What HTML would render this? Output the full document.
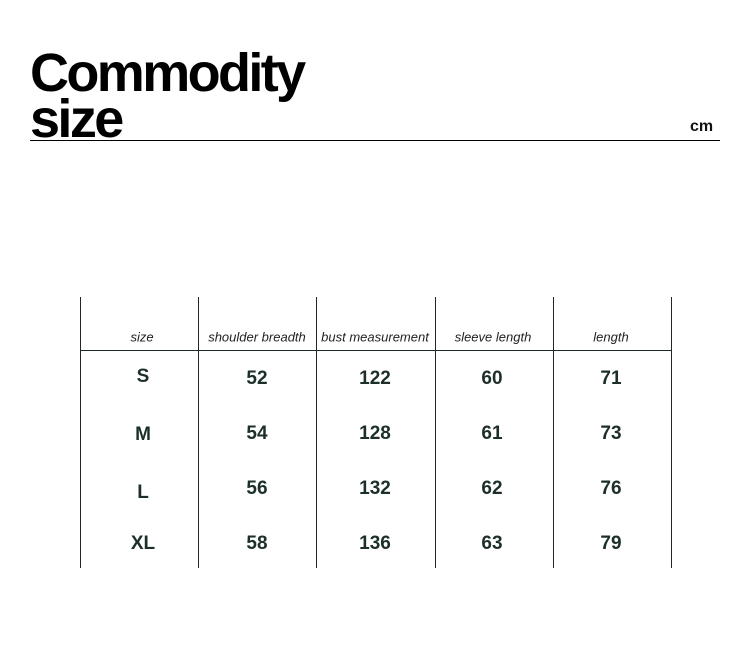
<!DOCTYPE html>
<html><head><style>
body{margin:0;width:750px;height:655px;background:#fff;position:relative;overflow:hidden;font-family:"Liberation Sans",sans-serif}
.t{position:absolute;left:30px;font-weight:bold;font-size:54px;letter-spacing:-2.6px;color:#000;line-height:1}
.v{position:absolute;background:#1e2a26;width:1px;top:297px;height:271px}
.h{position:absolute;background:#1e2a26;height:1px}
.c{position:absolute;width:118px;text-align:center;transform:translateY(-50%)}
.hd{font-style:italic;font-size:13px;color:#222;top:337px}
.n{font-weight:bold;font-size:19px;color:#1c2f2b}
</style></head><body>
<div class="t" style="top:46px">Commodity</div>
<div class="t" style="top:92px">size</div>
<div class="h" style="left:30px;width:690px;top:140px;background:#000"></div>
<div style="position:absolute;left:690px;top:118px;font-size:16px;font-weight:bold;color:#111">cm</div>
<div class="h" style="left:80px;width:592px;top:350px"></div>
<div class="v" style="left:80px"></div><div class="v" style="left:198px"></div><div class="v" style="left:316px"></div><div class="v" style="left:435px"></div><div class="v" style="left:553px"></div><div class="v" style="left:671px"></div>
<div class="c hd" style="left:83px">size</div>
<div class="c hd" style="left:198px">shoulder breadth</div>
<div class="c hd" style="left:316px">bust measurement</div>
<div class="c hd" style="left:434px">sleeve length</div>
<div class="c hd" style="left:552px">length</div>
<div class="c n" style="left:84px;top:377px">S</div>
<div class="c n" style="left:84px;top:435px">M</div>
<div class="c n" style="left:84px;top:493px">L</div>
<div class="c n" style="left:84px;top:544px">XL</div>
<div class="c n" style="left:198px;top:379px">52</div><div class="c n" style="left:316px;top:379px">122</div><div class="c n" style="left:433px;top:379px">60</div><div class="c n" style="left:552px;top:379px">71</div>
<div class="c n" style="left:198px;top:434px">54</div><div class="c n" style="left:316px;top:434px">128</div><div class="c n" style="left:433px;top:434px">61</div><div class="c n" style="left:552px;top:434px">73</div>
<div class="c n" style="left:198px;top:489px">56</div><div class="c n" style="left:316px;top:489px">132</div><div class="c n" style="left:433px;top:489px">62</div><div class="c n" style="left:552px;top:489px">76</div>
<div class="c n" style="left:198px;top:544px">58</div><div class="c n" style="left:316px;top:544px">136</div><div class="c n" style="left:433px;top:544px">63</div><div class="c n" style="left:552px;top:544px">79</div>
</body></html>
